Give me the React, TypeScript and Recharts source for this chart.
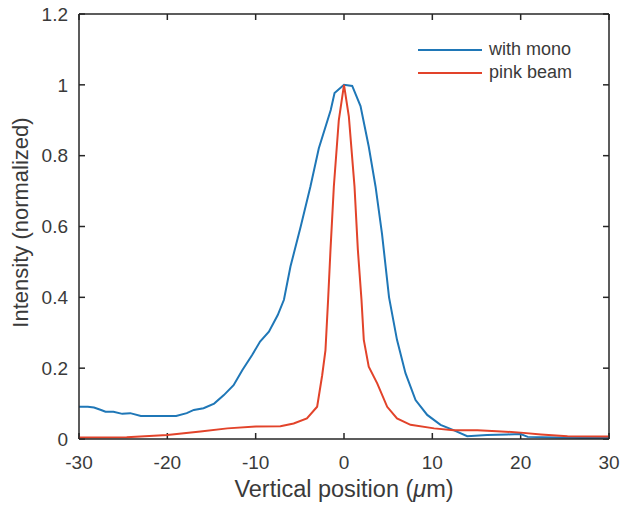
import React from 'react';
import { LineChart, Line, XAxis, YAxis, Legend, Label, ReferenceLine } from 'recharts';

const xTicks = [-30, -20, -10, 0, 10, 20, 30];
const yTicks = [0, 0.2, 0.4, 0.6, 0.8, 1, 1.2];

const seriesNames = ['with mono', 'pink beam'];

const monoX = [-30, -29, -28.3, -27.5, -27, -26.1, -25.1, -24.2, -23, -21, -19, -17.8, -17, -15.9, -14.7, -13.6, -12.5, -11.5, -10.4, -9.5, -8.5, -7.5, -6.8, -6.06, -4.9, -3.8, -2.85, -1.5, -1.07, 0, 0.93, 1.87, 2.8, 3.57, 4.3, 5.1, 6.0, 6.96, 8.1, 9.42, 10.93, 12.4, 13.95, 16.2, 18.5, 20, 20.8, 24, 27, 30];
const monoY = [0.091, 0.091, 0.089, 0.082, 0.077, 0.077, 0.071, 0.073, 0.065, 0.065, 0.065, 0.073, 0.082, 0.087, 0.1, 0.124, 0.152, 0.195, 0.237, 0.275, 0.303, 0.35, 0.393, 0.487, 0.6, 0.713, 0.821, 0.929, 0.977, 1.0, 0.997, 0.94, 0.826, 0.713, 0.58, 0.4, 0.28, 0.186, 0.11, 0.068, 0.04, 0.025, 0.008, 0.011, 0.013, 0.014, 0.006, 0.004, 0.003, 0.003];

const pinkX = [-30, -24.6, -20, -16.25, -13.2, -10, -7.2, -5.7, -4.2, -3.04, -2.47, -2.1, -1.8, -1.53, -1.15, -0.59, 0, 0.55, 1.19, 1.57, 1.98, 2.24, 2.8, 3.76, 4.89, 6.0, 7.53, 10.2, 12.4, 15.1, 17.3, 20, 22.3, 25.3, 30];
const pinkY = [0.004, 0.005, 0.011, 0.021, 0.03, 0.035, 0.036, 0.044, 0.058, 0.091, 0.18, 0.25, 0.393, 0.534, 0.713, 0.9, 1.0, 0.91, 0.713, 0.534, 0.393, 0.28, 0.204, 0.157, 0.091, 0.058, 0.04, 0.03, 0.025, 0.025, 0.022, 0.018, 0.013, 0.008, 0.007];

const monoData = monoX.map((x, i) => ({ x, y: monoY[i] }));
const pinkData = pinkX.map((x, i) => ({ x, y: pinkY[i] }));

const FONT = '"Liberation Sans", Arial, Helvetica, sans-serif';
const AXIS = '#262626';
const TEXT = '#3a3a3a';
const BLUE = '#1f77b7';
const RED = '#e2432a';
const seriesColors = [BLUE, RED];
const TICK_LEN = 6;

// horizontal reference line -> draws only short inward ticks at both ends
const HTickShape = (p: any) => {
  const a = Math.min(Number(p.x1), Number(p.x2));
  const b = Math.max(Number(p.x1), Number(p.x2));
  const y = Number(p.y1);
  return (
    <g>
      <line x1={a} x2={a + TICK_LEN} y1={y} y2={y} stroke={AXIS} strokeWidth={1.5} />
      <line x1={b - TICK_LEN} x2={b} y1={y} y2={y} stroke={AXIS} strokeWidth={1.5} />
    </g>
  );
};

// vertical reference line -> draws only short inward ticks at top and bottom
const VTickShape = (p: any) => {
  const a = Math.min(Number(p.y1), Number(p.y2));
  const b = Math.max(Number(p.y1), Number(p.y2));
  const x = Number(p.x1);
  return (
    <g>
      <line x1={x} x2={x} y1={a} y2={a + TICK_LEN} stroke={AXIS} strokeWidth={1.5} />
      <line x1={x} x2={x} y1={b - TICK_LEN} y2={b} stroke={AXIS} strokeWidth={1.5} />
    </g>
  );
};

const renderLegend = () => (
  <div style={{ fontFamily: FONT, fontSize: 18, color: TEXT }}>
    {seriesNames.map((name, i) => (
      <div key={i} style={{ display: 'flex', alignItems: 'center', height: 23 }}>
        <svg width={64} height={10} style={{ marginRight: 7 }}>
          <line x1={0} x2={64} y1={5} y2={5} stroke={seriesColors[i]} strokeWidth={2} />
        </svg>
        <span>{name}</span>
      </div>
    ))}
  </div>
);

export default function App() {
  return (
    <div style={{ position: 'absolute', left: 0, top: 0, background: '#fff' }}>
      <LineChart width={620} height={509} margin={{ top: 13, right: 10, left: 0, bottom: 0 }}>
        <XAxis
          xAxisId="b"
          type="number"
          dataKey="x"
          domain={[-30, 30]}
          ticks={xTicks}
          interval={0}
          allowDataOverflow
          height={70}
          tickSize={0}
          tickLine={false}
          tickMargin={17}
          stroke={AXIS}
          strokeWidth={1.5}
          tick={{ fill: TEXT, fontSize: 19, fontFamily: FONT }}
        >
          <Label
            content={(p: any) => {
              const vb = p.viewBox;
              return (
                <text x={vb.x + vb.width / 2} y={497} textAnchor="middle" fill={TEXT} fontSize={23.5} fontFamily={FONT}>
                  Vertical position (<tspan fontStyle="italic">μ</tspan>m)
                </text>
              );
            }}
          />
        </XAxis>
        <XAxis
          xAxisId="t"
          orientation="top"
          type="number"
          domain={[-30, 30]}
          ticks={xTicks}
          height={1}
          tickLine={false}
          tick={false}
          stroke={AXIS}
          strokeWidth={1.5}
        />
        <YAxis
          yAxisId="l"
          type="number"
          domain={[0, 1.2]}
          ticks={yTicks}
          interval={0}
          width={79}
          tickSize={0}
          tickLine={false}
          tickMargin={11}
          stroke={AXIS}
          strokeWidth={1.5}
          tick={{ fill: TEXT, fontSize: 19, fontFamily: FONT }}
        >
          <Label
            content={(p: any) => {
              const vb = p.viewBox;
              const cy = vb.y + vb.height / 2 - 4;
              return (
                <text x={28} y={cy} transform={`rotate(-90 28 ${cy})`} textAnchor="middle" fill={TEXT} fontSize={22} fontFamily={FONT}>
                  Intensity (normalized)
                </text>
              );
            }}
          />
        </YAxis>
        <YAxis
          yAxisId="r"
          orientation="right"
          type="number"
          domain={[0, 1.2]}
          ticks={yTicks}
          width={1}
          tickLine={false}
          tick={false}
          stroke={AXIS}
          strokeWidth={1.5}
        />
        {yTicks.map((v) => (
          <ReferenceLine key={'h' + v} xAxisId="b" yAxisId="l" y={v} shape={HTickShape} ifOverflow="visible" />
        ))}
        {xTicks.map((v) => (
          <ReferenceLine key={'v' + v} xAxisId="b" yAxisId="l" x={v} shape={VTickShape} ifOverflow="visible" />
        ))}
        <Legend
          content={renderLegend}
          layout="vertical"
          verticalAlign="middle"
          align="center"
          wrapperStyle={{ left: 418, top: 38, width: 190 }}
        />
        <Line
          xAxisId="b"
          yAxisId="l"
          data={monoData}
          dataKey="y"
          name={seriesNames[0]}
          stroke={BLUE}
          strokeWidth={2}
          dot={false}
          type="linear"
          isAnimationActive={false}
        />
        <Line
          xAxisId="b"
          yAxisId="l"
          data={pinkData}
          dataKey="y"
          name={seriesNames[1]}
          stroke={RED}
          strokeWidth={2}
          dot={false}
          type="linear"
          isAnimationActive={false}
        />
      </LineChart>
    </div>
  );
}
